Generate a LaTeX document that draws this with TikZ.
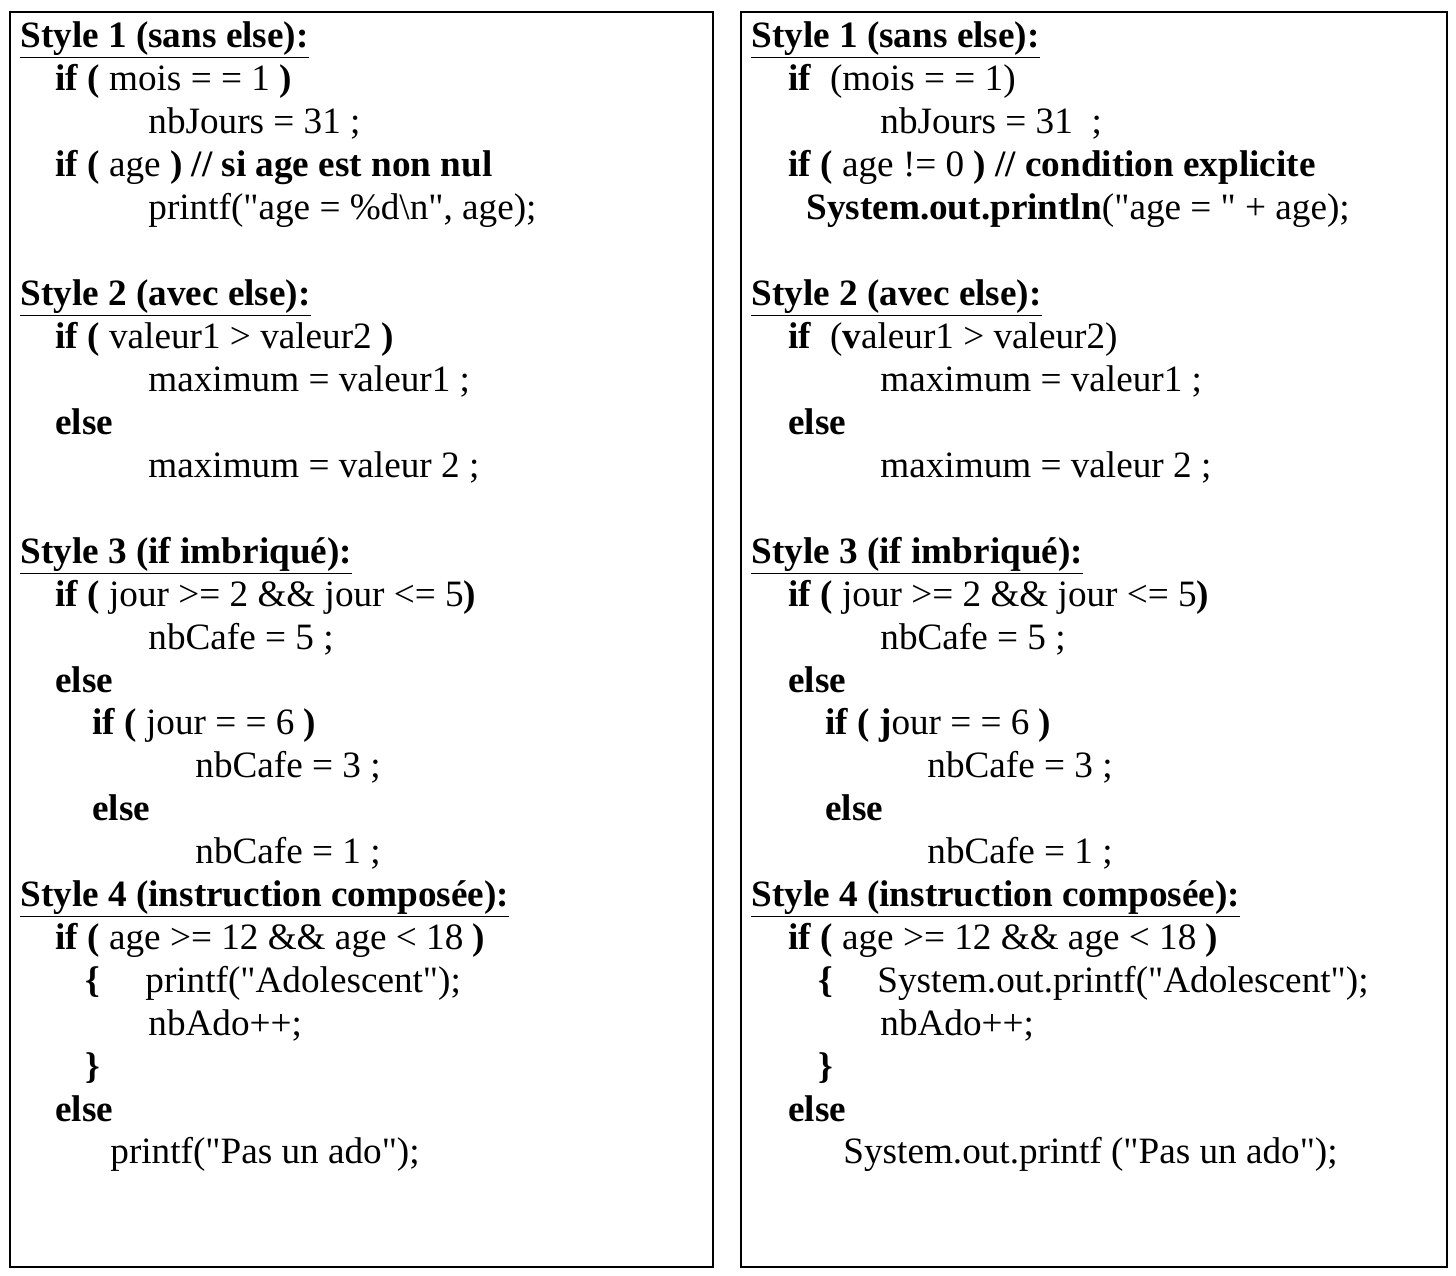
\documentclass[tikz,border=0pt]{standalone}
\usepackage{fontspec}
\setmainfont{Liberation Serif}[Ligatures=TeXOff]
\tikzset{
  codeline/.style={anchor=base west, inner sep=0pt, font=\fontsize{18.6}{22}\selectfont},
  panel/.style={draw=black, line width=1pt}
}
\newcommand{\hd}[1]{\textbf{\underline{#1}}}
\begin{document}
\begin{tikzpicture}[x=0.5pt,y=-0.5pt]
\useasboundingbox (0,0) rectangle (1456,1275);
\draw[panel] (10,12) rectangle (713,1267);
\draw[panel] (741,12) rectangle (1447,1267);
% left panel
\node[codeline] (l0) at (20,47) {\hd{Style 1 (sans else):}};
\node[codeline] (l1) at (55,90) {\textbf{if (} mois = = 1 \textbf{)}};
\node[codeline] (l2) at (148,133) {nbJours = 31 ;};
\node[codeline] (l3) at (55,176) {\textbf{if (} age \textbf{) // si age est non nul}};
\node[codeline] (l4) at (148,219) {printf("age = \%d\textbackslash n", age);};
\node[codeline] (l6) at (20,305) {\hd{Style 2 (avec else):}};
\node[codeline] (l7) at (55,348) {\textbf{if (} valeur1 > valeur2 \textbf{)}};
\node[codeline] (l8) at (148,391) {maximum = valeur1 ;};
\node[codeline] (l9) at (55,434) {\textbf{else}};
\node[codeline] (l10) at (148,477) {maximum = valeur 2 ;};
\node[codeline] (l12) at (20,563) {\hd{Style 3 (if imbriqué):}};
\node[codeline] (l13) at (55,606) {\textbf{if (} jour >= 2 \&\& jour <= 5\textbf{)}};
\node[codeline] (l14) at (148,649) {nbCafe = 5 ;};
\node[codeline] (l15) at (55,692) {\textbf{else}};
\node[codeline] (l16) at (92,734) {\textbf{if (} jour = = 6 \textbf{)}};
\node[codeline] (l17) at (195,777) {nbCafe = 3 ;};
\node[codeline] (l18) at (92,820) {\textbf{else}};
\node[codeline] (l19) at (195,863) {nbCafe = 1 ;};
\node[codeline] (l20) at (20,906) {\hd{Style 4 (instruction composée):}};
\node[codeline] (l21) at (55,949) {\textbf{if (} age >= 12 \&\& age < 18 \textbf{)}};
\node[codeline] (l22a) at (85,992) {\textbf{\{}};
\node[codeline] (l22) at (145,992) {printf("Adolescent");};
\node[codeline] (l23) at (148,1035) {nbAdo++;};
\node[codeline] (l24) at (85,1078) {\textbf{\}}};
\node[codeline] (l25) at (55,1121) {\textbf{else}};
\node[codeline] (l26) at (110,1163) {printf("Pas un ado");};
% right panel
\node[codeline] (r0) at (751,47) {\hd{Style 1 (sans else):}};
\node[codeline] (r1) at (788,90) {\textbf{if}\ \ (mois = = 1)};
\node[codeline] (r2) at (880,133) {nbJours = 31\ \ ;};
\node[codeline] (r3) at (788,176) {\textbf{if (} age != 0 \textbf{) // condition explicite}};
\node[codeline] (r4) at (806,219) {\textbf{System.out.println}("age = " + age);};
\node[codeline] (r6) at (751,305) {\hd{Style 2 (avec else):}};
\node[codeline] (r7) at (788,348) {\textbf{if}\ \ (\textbf{v}aleur1 > valeur2)};
\node[codeline] (r8) at (880,391) {maximum = valeur1 ;};
\node[codeline] (r9) at (788,434) {\textbf{else}};
\node[codeline] (r10) at (880,477) {maximum = valeur 2 ;};
\node[codeline] (r12) at (751,563) {\hd{Style 3 (if imbriqué):}};
\node[codeline] (r13) at (788,606) {\textbf{if (} jour >= 2 \&\& jour <= 5\textbf{)}};
\node[codeline] (r14) at (880,649) {nbCafe = 5 ;};
\node[codeline] (r15) at (788,692) {\textbf{else}};
\node[codeline] (r16) at (825,734) {\textbf{if ( j}our = = 6 \textbf{)}};
\node[codeline] (r17) at (927,777) {nbCafe = 3 ;};
\node[codeline] (r18) at (825,820) {\textbf{else}};
\node[codeline] (r19) at (927,863) {nbCafe = 1 ;};
\node[codeline] (r20) at (751,906) {\hd{Style 4 (instruction composée):}};
\node[codeline] (r21) at (788,949) {\textbf{if (} age >= 12 \&\& age < 18 \textbf{)}};
\node[codeline] (r22a) at (818,992) {\textbf{\{}};
\node[codeline] (r22) at (877,992) {System.out.printf("Adolescent");};
\node[codeline] (r23) at (880,1035) {nbAdo++;};
\node[codeline] (r24) at (818,1078) {\textbf{\}}};
\node[codeline] (r25) at (788,1121) {\textbf{else}};
\node[codeline] (r26) at (843,1163) {System.out.printf ("Pas un ado");};
\end{tikzpicture}
\end{document}
